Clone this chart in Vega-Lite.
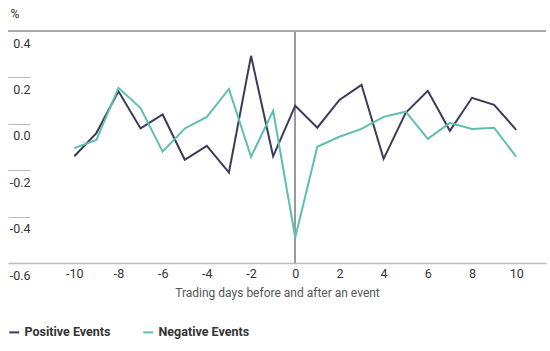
{
  "$schema": "https://vega.github.io/schema/vega-lite/v6.json",
  "autosize": {"type": "none"},
  "padding": {"left": 8, "top": 31, "right": 4, "bottom": 88},
  "width": 538,
  "height": 232,
  "background": "white",
  "config": {
    "view": {"stroke": null},
    "font": "Roboto",
    "locale": {
      "number": {"decimal": ".", "thousands": ",", "grouping": [3], "currency": ["$", ""], "minus": "-"}
    }
  },
  "data": {
    "values": [
      {"day": -10, "series": "Positive Events", "value": -0.14},
      {"day": -9, "series": "Positive Events", "value": -0.04},
      {"day": -8, "series": "Positive Events", "value": 0.14},
      {"day": -7, "series": "Positive Events", "value": -0.02},
      {"day": -6, "series": "Positive Events", "value": 0.04},
      {"day": -5, "series": "Positive Events", "value": -0.155},
      {"day": -4, "series": "Positive Events", "value": -0.095},
      {"day": -3, "series": "Positive Events", "value": -0.21},
      {"day": -2, "series": "Positive Events", "value": 0.293},
      {"day": -1, "series": "Positive Events", "value": -0.14},
      {"day": 0, "series": "Positive Events", "value": 0.078},
      {"day": 1, "series": "Positive Events", "value": -0.017},
      {"day": 2, "series": "Positive Events", "value": 0.103},
      {"day": 3, "series": "Positive Events", "value": 0.168},
      {"day": 4, "series": "Positive Events", "value": -0.151},
      {"day": 5, "series": "Positive Events", "value": 0.047},
      {"day": 6, "series": "Positive Events", "value": 0.142},
      {"day": 7, "series": "Positive Events", "value": -0.03},
      {"day": 8, "series": "Positive Events", "value": 0.112},
      {"day": 9, "series": "Positive Events", "value": 0.082},
      {"day": 10, "series": "Positive Events", "value": -0.026},
      {"day": -10, "series": "Negative Events", "value": -0.105},
      {"day": -9, "series": "Negative Events", "value": -0.07},
      {"day": -8, "series": "Negative Events", "value": 0.155},
      {"day": -7, "series": "Negative Events", "value": 0.068},
      {"day": -6, "series": "Negative Events", "value": -0.12},
      {"day": -5, "series": "Negative Events", "value": -0.02},
      {"day": -4, "series": "Negative Events", "value": 0.03},
      {"day": -3, "series": "Negative Events", "value": 0.15},
      {"day": -2, "series": "Negative Events", "value": -0.142},
      {"day": -1, "series": "Negative Events", "value": 0.056},
      {"day": 0, "series": "Negative Events", "value": -0.49},
      {"day": 1, "series": "Negative Events", "value": -0.099},
      {"day": 2, "series": "Negative Events", "value": -0.056},
      {"day": 3, "series": "Negative Events", "value": -0.022},
      {"day": 4, "series": "Negative Events", "value": 0.03},
      {"day": 5, "series": "Negative Events", "value": 0.052},
      {"day": 6, "series": "Negative Events", "value": -0.065},
      {"day": 7, "series": "Negative Events", "value": 0.004},
      {"day": 8, "series": "Negative Events", "value": -0.022},
      {"day": 9, "series": "Negative Events", "value": -0.017},
      {"day": 10, "series": "Negative Events", "value": -0.142}
    ]
  },
  "layer": [
    {
      "mark": {"type": "rule", "color": "#999999", "strokeWidth": 1},
      "encoding": {"x": {"datum": 0, "type": "quantitative"}}
    },
    {
      "mark": {"type": "rule", "color": "#aaaaaa", "strokeWidth": 1.5},
      "encoding": {"y": {"datum": 0.4, "type": "quantitative"}}
    },
    {
      "mark": {"type": "line", "strokeWidth": 2},
      "encoding": {
        "x": {
          "field": "day",
          "type": "quantitative",
          "scale": {"domain": [-13, 11.35], "nice": false, "zero": false},
          "axis": {
            "values": [-10, -8, -6, -4, -2, 0, 2, 4, 6, 8, 10],
            "format": "d",
            "title": "Trading days before and after an event",
            "titleFontSize": 12,
            "titleFontWeight": "normal",
            "titleColor": "#555555",
            "titlePadding": 8,
            "grid": false,
            "ticks": false,
            "domainColor": "#bbbbbb",
            "domainWidth": 1.5,
            "labelFontSize": 12.5,
            "labelColor": "#333333",
            "labelPadding": 4
          }
        },
        "y": {
          "field": "value",
          "type": "quantitative",
          "scale": {"domain": [-0.6, 0.4], "nice": false, "zero": false},
          "axis": {
            "values": [-0.6, -0.4, -0.2, 0, 0.2, 0.4],
            "format": ".1f",
            "title": "%",
            "titleAngle": 0,
            "titleAnchor": "end",
            "titleAlign": "left",
            "titleBaseline": "bottom",
            "titleX": 2,
            "titleY": -11,
            "titleFontSize": 12,
            "titleFontWeight": "normal",
            "titleColor": "#333333",
            "grid": false,
            "domain": false,
            "tickSize": -22,
            "tickColor": "#bbbbbb",
            "tickWidth": 1,
            "labelAlign": "right",
            "labelBaseline": "alphabetic",
            "labelPadding": 0,
            "labelOffset": 16,
            "labelFontSize": 12.5,
            "labelColor": "#333333"
          }
        },
        "color": {
          "field": "series",
          "type": "nominal",
          "scale": {"domain": ["Positive Events", "Negative Events"], "range": ["#3a3a5c", "#5fbfac"]},
          "legend": {
            "title": null,
            "orient": "none",
            "legendX": 0,
            "legendY": 295,
            "direction": "horizontal",
            "symbolType": "stroke",
            "symbolSize": 100,
            "symbolStrokeWidth": 2,
            "labelOffset": 4,
            "columnPadding": 28,
            "labelFontSize": 12.5,
            "labelFontWeight": "bold",
            "labelColor": "#333333"
          }
        }
      }
    }
  ]
}
